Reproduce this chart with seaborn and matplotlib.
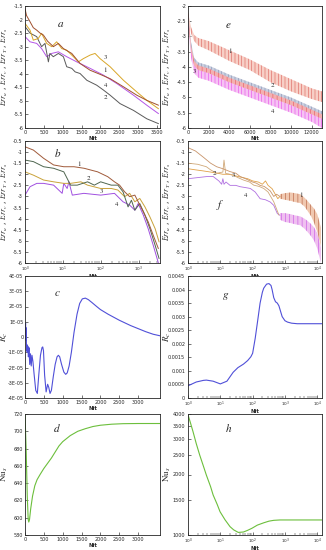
import numpy as np
import pandas as pd
import matplotlib
matplotlib.use("Agg")
import matplotlib.pyplot as plt
import seaborn as sns
from matplotlib.ticker import FuncFormatter, LogLocator, NullLocator, FixedLocator, LogFormatterMathtext, NullFormatter

sns.set_style("ticks")
plt.rcParams['font.family'] = ['DejaVu Sans']
plt.rcParams['mathtext.fontset'] = 'stix'
plt.rcParams['hatch.linewidth'] = 0.35

# ---------------- data ----------------
# panel a (linear Nit)
a1_x = [0, 40, 133, 220, 310, 400, 487, 600, 753, 885, 1018, 1240, 1460, 1727, 1990, 2257, 2611, 2965, 3230, 3540]
a1_y = [-1.6, -1.85, -2.08, -2.3, -2.39, -2.5, -2.57, -2.8, -3.0, -2.88, -3.07, -3.25, -3.62, -3.87, -4.02, -4.18, -4.48, -4.79, -4.98, -5.16]
a2_x = [0, 133, 310, 440, 530, 620, 660, 750, 885, 1018, 1106, 1240, 1330, 1460, 1640, 1900, 2080, 2257, 2520, 2876, 3230, 3540]
a2_y = [-2.26, -2.5, -2.63, -3.0, -2.88, -3.56, -3.25, -3.37, -3.25, -3.37, -3.74, -3.8, -3.93, -3.99, -4.24, -4.42, -4.6, -4.79, -5.1, -5.35, -5.66, -5.84]
a3_x = [0, 133, 220, 350, 440, 575, 708, 840, 973, 1106, 1283, 1416, 1549, 1727, 1858, 1990, 2257, 2611, 2965, 3230, 3540]
a3_y = [-2.14, -2.39, -2.76, -2.7, -2.51, -2.88, -3.0, -2.82, -3.07, -3.13, -3.37, -3.56, -3.44, -3.31, -3.25, -3.44, -3.74, -4.24, -4.67, -4.98, -5.29]
a4_x = [0, 133, 310, 440, 575, 708, 885, 1106, 1372, 1727, 2080, 2434, 2876, 3230, 3540]
a4_y = [-2.63, -2.82, -2.88, -3.07, -3.37, -3.25, -3.19, -3.37, -3.56, -3.8, -4.05, -4.36, -4.79, -5.16, -5.47]

# panel b (log Nit)
b1_x = [1, 1.67, 3.1, 5.7, 10.6, 19.7, 36.6, 83, 154, 232, 316, 430, 584, 800, 980, 1340, 1800, 2450, 3350]
b1_y = [-0.76, -0.91, -1.28, -1.58, -1.66, -1.66, -1.73, -1.89, -2.11, -2.34, -2.49, -2.79, -3.01, -2.94, -3.24, -3.69, -4.14, -4.75, -5.35]
b2_x = [1, 1.67, 3.1, 5.7, 10.6, 16, 24, 45, 68, 100, 190, 285, 390, 530, 650, 800, 1080, 1480, 2000, 2750, 3500]
b2_y = [-1.36, -1.43, -1.66, -1.73, -1.89, -2.49, -2.49, -2.34, -2.49, -2.34, -2.49, -2.49, -2.79, -3.47, -3.17, -3.62, -3.32, -3.84, -4.45, -5.2, -5.8]
b3_x = [1, 1.67, 3.1, 5.7, 10.6, 16, 30, 45, 100, 190, 285, 430, 584, 800, 1080, 1480, 2000, 2750, 3500]
b3_y = [-1.89, -2.04, -2.26, -2.34, -2.41, -2.41, -2.34, -2.49, -2.64, -2.64, -2.71, -3.01, -2.86, -3.24, -3.09, -3.47, -3.92, -4.45, -5.05]
b4_x = [1, 1.36, 2.05, 3.1, 5.7, 9.6, 10.6, 13, 14.5, 17.8, 36, 100, 232, 390, 584, 800, 980, 1340, 1800, 2450, 3350]
b4_y = [-2.94, -2.56, -2.41, -2.41, -2.49, -2.86, -2.41, -2.64, -2.34, -2.94, -2.86, -2.94, -2.86, -3.24, -3.39, -3.62, -3.32, -3.84, -4.45, -5.2, -6.0]

# panel c
c_x = [0, 8, 16, 24, 32, 40, 50, 60, 75, 90, 105, 125, 145, 165, 185, 210, 240, 285, 327, 365, 410, 450, 470, 490, 520, 560, 600, 630, 664,
       700, 750, 800, 850, 885, 920, 970, 1030, 1080, 1120, 1170, 1230, 1300, 1380, 1450, 1520, 1600, 1680, 1780, 1900, 2000, 2200, 2500,
       2800, 3000, 3200, 3400, 3580]
c_y = [0.0, 0.7, 0.9, -0.2, 0.6, -0.9, -0.5, -1.0, -0.6, -1.3, -0.7, -1.8, -1.1, -1.9, -1.2, -1.6, -2.4, -3.5, -3.7, -2.5, -1.2, -0.7, -0.65, -0.9, -2.5, -3.6, -3.1, -3.3, -3.7,
       -3.5, -2.6, -1.8, -1.3, -1.2, -1.3, -1.8, -2.3, -2.45, -2.35, -1.9, -1.0, 0.3, 1.5, 2.2, 2.5, 2.55, 2.45, 2.25, 2.0, 1.8, 1.5, 1.1,
       0.75, 0.55, 0.35, 0.18, 0.08]
c_scale = 1e-5

# panel d
d_x = [0, 30, 60, 85, 100, 120, 150, 200, 260, 320, 400, 500, 600, 700, 800, 900, 1000, 1200, 1400, 1600, 1800, 2000, 2300, 2600, 3000, 3580]
d_y = [719, 680, 625, 598, 595, 598, 610, 625, 637, 644, 650, 657, 663, 669, 676, 683, 688, 695, 700, 703, 705.5, 707, 708.2, 708.8, 709, 709]

# panel e (oscillating bands: upper / lower envelopes)
e_x = [0, 300, 600, 1000, 2000, 4000, 6000, 8000, 10000, 12000, 13000]
e1_up = [-2.2, -2.7, -2.95, -3.05, -3.15, -3.45, -3.75, -4.1, -4.4, -4.7, -4.8]
e1_lo = [-2.4, -2.9, -3.15, -3.3, -3.45, -3.8, -4.1, -4.5, -4.8, -5.05, -5.15]
e2_up = [-2.3, -3.2, -3.7, -3.85, -3.95, -4.25, -4.5, -4.75, -5.0, -5.3, -5.45]
e2_lo = [-2.5, -3.4, -3.85, -4.0, -4.1, -4.4, -4.65, -4.9, -5.15, -5.45, -5.6]
e3_up = [-2.2, -3.3, -3.8, -3.95, -4.05, -4.35, -4.6, -4.85, -5.1, -5.4, -5.55]
e3_lo = [-2.4, -3.5, -3.95, -4.1, -4.2, -4.5, -4.75, -5.0, -5.25, -5.55, -5.7]
e4_up = [-2.4, -3.4, -3.9, -4.0, -4.1, -4.4, -4.65, -4.9, -5.15, -5.45, -5.6]
e4_lo = [-2.6, -3.7, -4.2, -4.35, -4.45, -4.75, -5.0, -5.25, -5.5, -5.8, -6.0]

# panel f
f1_x = [1, 1.7, 3.1, 5, 7.7, 12, 20, 30, 41, 60, 95, 130, 170, 230, 280, 350, 450, 550, 700]
f1_y = [-0.8, -0.95, -1.25, -1.5, -1.66, -1.75, -1.88, -1.95, -2.1, -2.2, -2.34, -2.4, -2.5, -2.55, -2.64, -2.75, -3.0, -2.9, -3.0]
f2_x = [1, 2, 3.7, 5, 7.7, 10, 12, 13, 14.6, 20, 25, 35, 52, 80, 108, 160, 220, 300, 450, 650]
f2_y = [-1.5, -1.55, -1.66, -1.8, -1.96, -1.92, -1.9, -1.36, -1.96, -2.0, -2.04, -2.15, -2.26, -2.35, -2.49, -2.55, -2.64, -2.8, -3.24, -3.84]
f3_x = [1, 1.7, 3, 5, 8, 12, 18, 25, 35, 50, 70, 100, 150, 200, 250, 300, 400, 500, 600, 700]
f3_y = [-1.75, -1.8, -1.85, -1.9, -1.95, -2.0, -2.0, -2.04, -2.1, -2.15, -2.2, -2.3, -2.35, -2.45, -2.3, -2.5, -2.65, -2.9, -3.1, -3.0]
f4_x = [1, 2, 4, 6, 9, 11, 12, 13, 15, 20, 30, 41, 60, 85, 120, 170, 250, 350, 450, 580, 700]
f4_y = [-2.2, -2.15, -2.1, -2.1, -2.3, -2.45, -2.2, -2.45, -2.35, -2.5, -2.5, -2.56, -2.6, -2.64, -2.8, -3.1, -3.15, -3.25, -3.4, -3.77, -3.85]
fb_x = [700, 1000, 1500, 2000, 3000, 4000, 5000, 6500, 8000, 10000, 13000]
f1b_up = [-2.9, -2.85, -2.82, -2.85, -2.9, -3.05, -3.2, -3.4, -3.55, -3.8, -4.4]
f1b_lo = [-3.1, -3.15, -3.2, -3.25, -3.3, -3.45, -3.65, -3.9, -4.2, -4.6, -5.25]
f4b_up = [-3.75, -3.75, -3.8, -3.85, -3.9, -4.0, -4.1, -4.25, -4.4, -4.65, -5.3]
f4b_lo = [-4.05, -4.15, -4.2, -4.25, -4.3, -4.45, -4.6, -4.8, -5.0, -5.35, -6.0]

# panel g
g_x = [1, 1.8, 3, 3.7, 6, 10, 16, 25, 35, 52, 70, 88, 100, 120, 145, 170, 200, 220, 270, 320, 370, 400, 450, 510, 580, 650, 730, 820, 1000, 1200, 1600, 2400, 5000, 14000]
g_y = [0.45, 0.59, 0.65, 0.66, 0.62, 0.52, 0.62, 0.95, 1.12, 1.25, 1.38, 1.52, 1.65, 2.2, 2.9, 3.5, 3.9, 4.05, 4.2, 4.22, 4.15, 4.0, 3.7, 3.55, 3.5, 3.4, 3.2, 3.0, 2.85, 2.8, 2.76, 2.74, 2.74, 2.74]
g_scale = 1e-3

# panel h
h_x = [1, 1.2, 1.43, 1.8, 2.3, 3, 3.7, 5, 6, 8, 9.8, 14, 20, 26, 36, 52, 70, 95, 140, 220, 320, 450, 700, 1000, 3000, 14000]
h_y = [3970, 3600, 3268, 2850, 2500, 2200, 1986, 1740, 1581, 1420, 1306, 1190, 1100, 1060, 1030, 1035, 1055, 1080, 1120, 1150, 1172, 1183, 1188, 1188, 1188, 1188]

err_label = r'$Err_u$ , $Err_v$ , $Err_T$ , $Err_s$'

# ---------------- figure ----------------
fig = plt.figure(figsize=(3.26, 5.5), dpi=100)
W, H = 326, 550
def pos(x0, x1, y0, y1):
    return [x0 / W, 1 - y1 / H, (x1 - x0) / W, (y1 - y0) / H]

ax_a = fig.add_axes(pos(25, 160, 6, 128))
ax_e = fig.add_axes(pos(188, 322, 6, 128))
ax_b = fig.add_axes(pos(25, 160, 141, 263))
ax_f = fig.add_axes(pos(188, 322, 141, 263))
ax_c = fig.add_axes(pos(25, 160, 276, 398))
ax_g = fig.add_axes(pos(188, 322, 276, 398))
ax_d = fig.add_axes(pos(25, 160, 414, 535))
ax_h = fig.add_axes(pos(188, 322, 414, 535))

TFS = 3.5
def style(ax, ylabel, log=False, yfs=5.6):
    for s in ax.spines.values():
        s.set_linewidth(0.6)
        s.set_visible(True)
    ax.tick_params(which='major', direction='in', length=2.2, width=0.45, labelsize=TFS, pad=1.2)
    ax.tick_params(which='minor', direction='in', length=1.2, width=0.35)
    ax.tick_params(top=False, right=False)
    ax.set_xlabel('Nit', fontsize=3.8, fontweight='bold', labelpad=0.5)
    ax.set_ylabel(ylabel, fontsize=yfs, labelpad=1)
    ax.yaxis.set_label_coords(-0.11, 0.5)
    ax.xaxis.set_label_coords(0.5, -0.066)
    if log:
        ax.set_xscale('log')
        ax.xaxis.set_major_locator(LogLocator(base=10, numticks=10))
        ax.xaxis.set_minor_locator(LogLocator(base=10, subs=np.arange(2, 10), numticks=10))
        ax.xaxis.set_major_formatter(LogFormatterMathtext())
        ax.xaxis.set_minor_formatter(NullFormatter())
        ax.tick_params(axis='x', which='major', labelsize=3.0, pad=1.4)
        ax.tick_params(axis='y', which='major', pad=2.0)
        ax.xaxis.set_label_coords(0.5, -0.092)

def line(ax, x, y, color, lw=0.7):
    sns.lineplot(x=x, y=y, ax=ax, color=color, lw=lw, estimator=None, sort=False, legend=False)

def band(ax, x, lo, up, face, edge, n=5):
    ax.fill_between(x, lo, up, facecolor=face, edgecolor=edge, hatch='|' * n, linewidth=0)

def letter(ax, t, x, y):
    ax.text(x, y, t, transform=ax.transAxes, fontsize=8, style='italic', family='STIXGeneral')

def num(ax, t, x, y):
    ax.text(x, y, t, fontsize=5, family='STIXGeneral', ha='center', va='center')

gfmt = FuncFormatter(lambda v, p: '%g' % v)

C1, C2, C3, C4 = '#a0502e', '#5a5a5a', '#d9a628', '#b455e6'

# a
line(ax_a, a4_x, a4_y, C4); line(ax_a, a2_x, a2_y, C2); line(ax_a, a3_x, a3_y, C3); line(ax_a, a1_x, a1_y, C1)
ax_a.set_xlim(0, 3580); ax_a.set_ylim(-6, -1.5)
ax_a.set_xticks(np.arange(0, 3501, 500)); ax_a.set_yticks(np.arange(-6, -1.49, 0.5))
style(ax_a, err_label); ax_a.yaxis.set_major_formatter(gfmt)
letter(ax_a, 'a', 0.24, 0.83)
num(ax_a, '1', 2125, -3.87); num(ax_a, '2', 2125, -4.85); num(ax_a, '3', 2125, -3.4); num(ax_a, '4', 2125, -4.42)

# b
B1, B2, B3, B4 = '#a05a3a', '#4f6650', '#c9a23a', '#a050e0'
line(ax_b, b4_x, b4_y, B4); line(ax_b, b3_x, b3_y, B3); line(ax_b, b2_x, b2_y, B2); line(ax_b, b1_x, b1_y, B1)
style(ax_b, err_label, log=True)
ax_b.set_xlim(1, 3700); ax_b.set_ylim(-6, -0.5)
ax_b.set_yticks(np.arange(-6, -0.49, 0.5)); ax_b.yaxis.set_major_formatter(gfmt)
letter(ax_b, 'b', 0.22, 0.87)
num(ax_b, '1', 27, -1.55); num(ax_b, '2', 49, -2.2); num(ax_b, '3', 102, -2.78); num(ax_b, '4', 258, -3.35)

# c
line(ax_c, c_x, np.array(c_y) * c_scale, '#5050d8', lw=0.8)
ax_c.set_xlim(0, 3580); ax_c.set_ylim(-4e-5, 4e-5)
ax_c.set_xticks(np.arange(0, 3001, 500)); ax_c.set_yticks(np.arange(-4, 4.01, 1) * 1e-5)
style(ax_c, r'$R_c$', yfs=6.5)
ax_c.yaxis.set_major_formatter(FuncFormatter(lambda v, p: '0' if abs(v) < 1e-9 else ('%.0E' % v)))
letter(ax_c, 'c', 0.22, 0.84)

# d
line(ax_d, d_x, d_y, '#6cbf3c', lw=0.8)
ax_d.set_xlim(0, 3580); ax_d.set_ylim(580, 720)
ax_d.set_xticks(np.arange(0, 3001, 500)); ax_d.set_yticks(np.arange(580, 721, 20))
style(ax_d, r'$\mathrm{Nu}_s$', yfs=6.5)
letter(ax_d, 'd', 0.21, 0.85)

# e
band(ax_e, e_x, e1_lo, e1_up, '#f7cfc6', '#d8504a')
band(ax_e, e_x, e4_lo, e4_up, '#f6c2f4', '#e43ce4')
band(ax_e, e_x, e2_lo, e2_up, '#c9cfe0', '#7a86a8')
band(ax_e, e_x, e3_lo, e3_up, '#f4b0b0', '#e04a52', n=4)
ax_e.set_xlim(0, 13000); ax_e.set_ylim(-6, -2)
ax_e.set_xticks(np.arange(0, 12001, 2000)); ax_e.set_yticks(np.arange(-6, -1.99, 0.5))
style(ax_e, err_label); ax_e.yaxis.set_major_formatter(gfmt)
letter(ax_e, 'e', 0.28, 0.82)
num(ax_e, '1', 4030, -3.5); num(ax_e, '2', 8225, -4.6); num(ax_e, '3', 645, -4.13); num(ax_e, '4', 8225, -5.45)

# f
band(ax_f, fb_x, f4b_lo, f4b_up, '#efc0f0', '#c040e0', n=4)
band(ax_f, fb_x, f1b_lo, f1b_up, '#f0c8b0', '#a84a28', n=4)
line(ax_f, f4_x, f4_y, '#b070e0', lw=0.6)
line(ax_f, f3_x, f3_y, '#e0a048', lw=0.6)
line(ax_f, f2_x, f2_y, '#d0a878', lw=0.6)
line(ax_f, f1_x, f1_y, '#c8946a', lw=0.6)
style(ax_f, err_label, log=True)
ax_f.set_xlim(1, 14000); ax_f.set_ylim(-6, -0.5)
ax_f.set_yticks(np.arange(-6, -0.49, 0.5)); ax_f.yaxis.set_major_formatter(gfmt)
letter(ax_f, 'f', 0.22, 0.45)
num(ax_f, '1', 3100, -2.95); num(ax_f, '2', 6.8, -1.96); num(ax_f, '3', 25, -2.04); num(ax_f, '4', 59, -2.94)

# g
line(ax_g, g_x, np.array(g_y) * g_scale, '#5050d8', lw=0.8)
style(ax_g, r'$R_c$', log=True, yfs=6.5)
ax_g.set_xlim(1, 14000); ax_g.set_ylim(0, 0.0045)
ax_g.set_yticks(np.arange(0, 0.00451, 0.0005)); ax_g.yaxis.set_major_formatter(gfmt)
letter(ax_g, 'g', 0.26, 0.82)

# h
line(ax_h, h_x, h_y, '#6cbf3c', lw=0.8)
style(ax_h, r'$\mathrm{Nu}_s$', log=True, yfs=6.5)
ax_h.set_yscale('log')
ax_h.set_xlim(1, 14000); ax_h.set_ylim(1000, 4000)
ax_h.yaxis.set_major_locator(FixedLocator([1000, 1500, 2000, 2500, 3000, 3500, 4000]))
ax_h.yaxis.set_minor_locator(NullLocator())
ax_h.yaxis.set_major_formatter(gfmt)
letter(ax_h, 'h', 0.28, 0.85)

fig.savefig('out.png', dpi=100)
